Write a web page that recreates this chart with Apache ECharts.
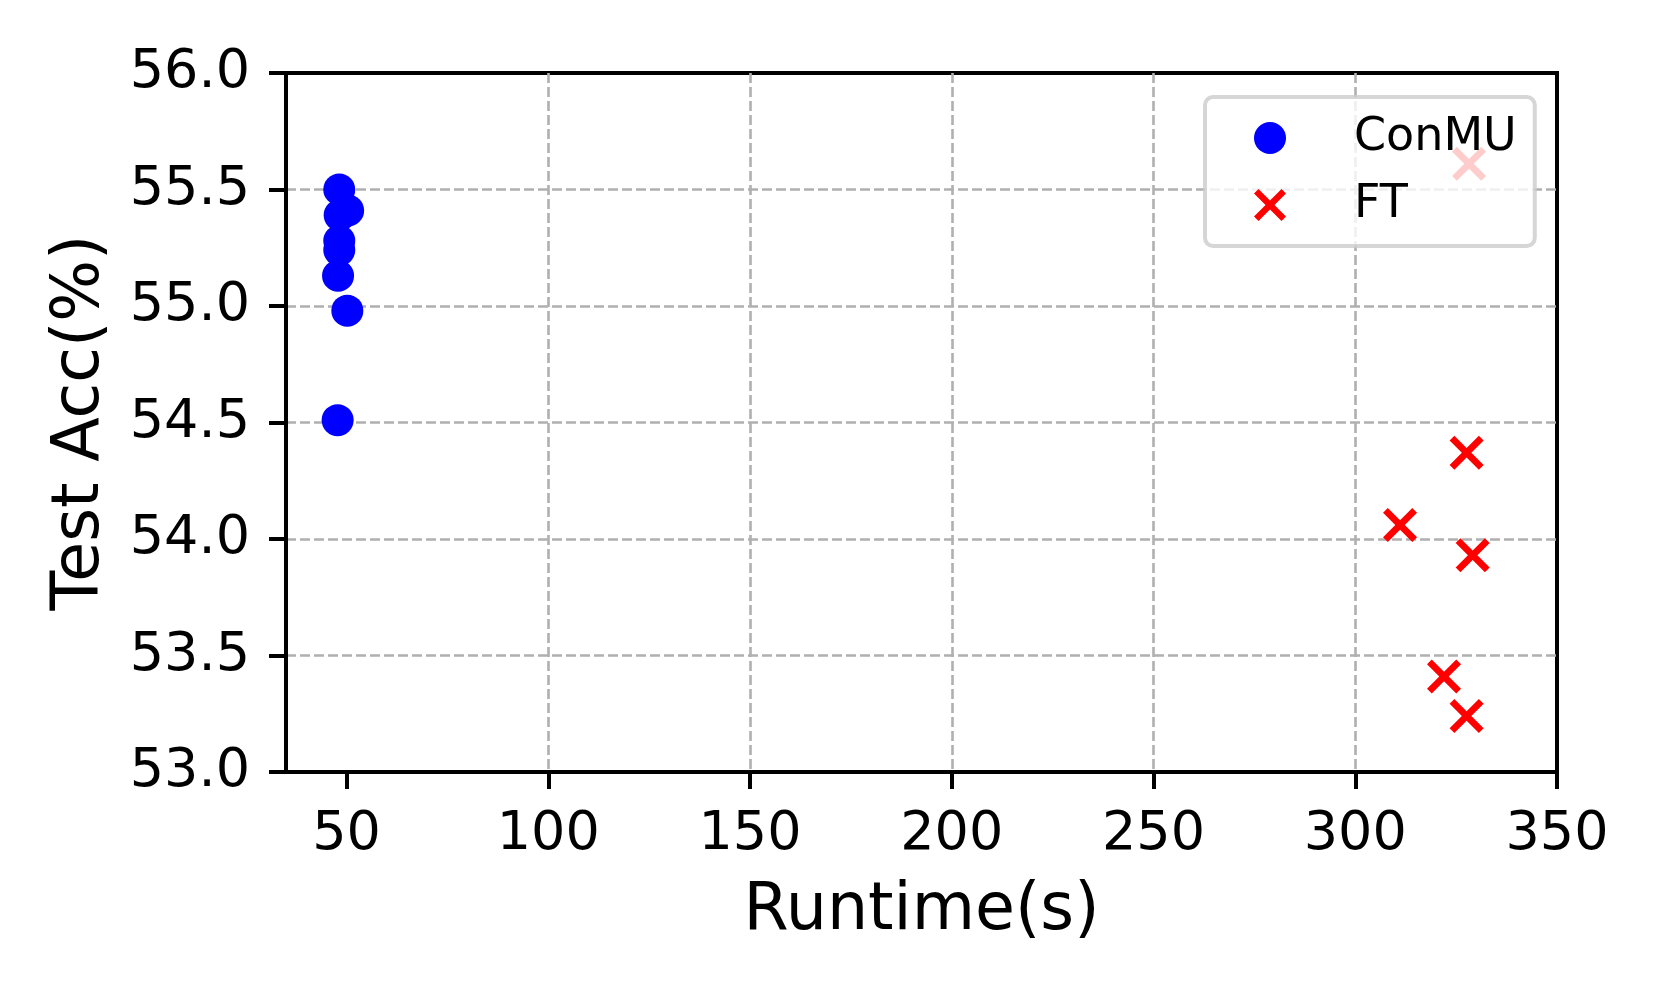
<!DOCTYPE html>
<html>
<head>
<meta charset="utf-8">
<script src="https://cdn.jsdelivr.net/npm/echarts@6/dist/echarts.min.js"></script>
<style>
  html, body { margin: 0; padding: 0; background: #fff; }
  #chart { width: 1661px; height: 997px; }
</style>
</head>
<body>
<div id="chart"></div>
<script>
// ConMU runs
const conmuRuntime = [48.2, 50.4, 48.3, 48.2, 48.2, 47.9, 50.2, 47.8];
const conmuAcc = [55.50, 55.41, 55.39, 55.28, 55.24, 55.13, 54.98, 54.51];

// FT runs
const ftRuntime = [328.2, 327.6, 311.1, 329.1, 322.0, 327.6];
const ftAcc = [55.61, 54.37, 54.06, 53.93, 53.41, 53.24];

const xTicks = [50, 100, 150, 200, 250, 300, 350];

const FONT = 'DejaVu Sans';
// matplotlib style 'x' marker
const X_MARK = 'path://M0,0.14 L0.14,0 L0.5,0.36 L0.86,0 L1,0.14 L0.64,0.5 L1,0.86 L0.86,1 L0.5,0.64 L0.14,1 L0,0.86 L0.36,0.5 Z';

const zip = (xs, ys) => xs.map((x, i) => [x, ys[i]]);

const chart = echarts.init(document.getElementById('chart'));

// dashed grid, not drawn on the frame itself
const gridLine = {
  show: true,
  showMinLine: false,
  showMaxLine: false,
  lineStyle: { color: '#b0b0b0', width: 2.6, type: [10, 4] }
};

chart.setOption({
  animation: false,
  backgroundColor: '#fff',
  grid: {
    left: 286,
    right: 104,
    top: 73,
    bottom: 225,
    show: true,
    borderColor: '#000',
    borderWidth: 4,
    backgroundColor: 'transparent'
  },
  legend: {
    orient: 'vertical',
    left: 1205,
    top: 97,
    padding: [18, 18, 18, 49],
    itemWidth: 32,
    itemHeight: 32,
    itemGap: 21,
    backgroundColor: 'rgba(255,255,255,0.8)',
    borderColor: 'rgba(204,204,204,0.8)',
    borderWidth: 4,
    borderRadius: 8,
    textStyle: {
      fontFamily: FONT,
      fontSize: 46,
      color: '#000',
      padding: [0, 0, 0, 63]
    },
    data: ['ConMU', 'FT']
  },
  xAxis: {
    type: 'value',
    min: 35,
    max: 350,
    name: 'Runtime(s)',
    nameLocation: 'middle',
    nameGap: 108,
    nameTextStyle: { fontFamily: FONT, fontSize: 65, color: '#000' },
    axisLine: { show: true, onZero: false, lineStyle: { color: '#000', width: 4 } },
    axisTick: { show: true, length: 17, customValues: xTicks, lineStyle: { color: '#000', width: 4 } },
    axisLabel: { fontFamily: FONT, fontSize: 54, color: '#000', margin: 36, customValues: xTicks },
    splitLine: gridLine
  },
  yAxis: {
    type: 'value',
    min: 53,
    max: 56,
    interval: 0.5,
    name: 'Test Acc(%)',
    nameLocation: 'middle',
    nameGap: 172,
    nameTextStyle: { fontFamily: FONT, fontSize: 65, color: '#000' },
    axisLine: { show: true, onZero: false, lineStyle: { color: '#000', width: 4 } },
    axisTick: { show: true, length: 17, lineStyle: { color: '#000', width: 4 } },
    axisLabel: {
      fontFamily: FONT, fontSize: 54, color: '#000', margin: 36,
      formatter: v => v.toFixed(1)
    },
    splitLine: gridLine
  },
  series: [
    {
      name: 'ConMU',
      type: 'scatter',
      symbol: 'circle',
      symbolSize: 32,
      itemStyle: { color: '#0000ff', opacity: 1 },
      data: zip(conmuRuntime, conmuAcc)
    },
    {
      name: 'FT',
      type: 'scatter',
      symbol: X_MARK,
      symbolSize: 34,
      itemStyle: { color: '#ff0000', opacity: 1 },
      data: zip(ftRuntime, ftAcc)
    }
  ]
});
</script>
</body>
</html>
